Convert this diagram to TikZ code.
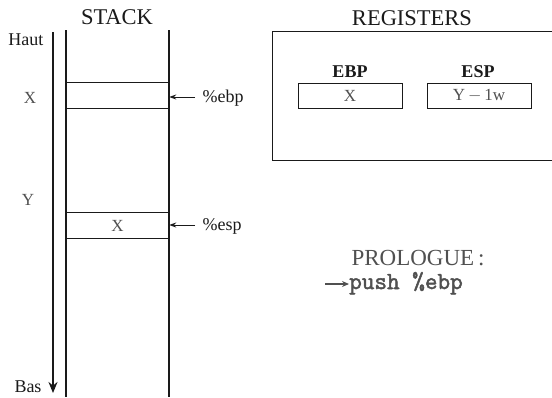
\documentclass[tikz,border=0pt]{standalone}
\usepackage{fontspec}
\setmainfont{Liberation Serif}
\newfontfamily\codefont[FakeBold=2]{Latin Modern Mono}
\usetikzlibrary{arrows.meta}
\definecolor{ink}{HTML}{1A1A1A}
\definecolor{soft}{HTML}{505050}
\begin{document}
\begin{tikzpicture}[x=1pt,y=-1pt,
  wall/.style={draw=ink,line width=1.1pt},
  title/.style={font=\fontsize{22.5}{24}\selectfont,text=ink},
  side/.style={font=\fontsize{18}{20}\selectfont,text=ink},
  val/.style={font=\fontsize{17}{19}\selectfont,text=soft},
  regname/.style={font=\fontsize{18}{20}\selectfont\bfseries,text=ink},
  regbox/.style={draw=ink,line width=0.9pt,minimum width=104pt,minimum height=25pt,inner sep=0pt,font=\fontsize{17}{19}\selectfont,text=soft},
  ptr/.style={draw=ink,line width=1pt,-{Stealth[length=7pt,width=5pt]}}]
\useasboundingbox (0,0) rectangle (552,397);

% direction of growth, Haut -> Bas
\node[side,anchor=east] (haut) at (47,40) {Haut};
\node[side] (bas) at (28,387) {Bas};
\coordinate (dtop) at (53,32);
\coordinate (dbot) at (53,393);
\draw[draw=ink,line width=2.6pt,-{Stealth[length=11pt,width=9pt]}] (dtop) -- (dbot);

% the stack
\node[title] (stack) at (117,17) {STACK};
\coordinate (wl1) at (66,30);  \coordinate (wl2) at (66,397);
\coordinate (wr1) at (169,30); \coordinate (wr2) at (169,397);
\draw[wall] (wl1) -- (wl2);
\draw[wall] (wr1) -- (wr2);
\node[minimum width=103pt,minimum height=25pt,inner sep=0pt] (slotx) at (117.5,95.5) {};
\draw[wall] (slotx.north west) -- (slotx.north east) (slotx.south west) -- (slotx.south east);
\node[minimum width=103pt,minimum height=25pt,inner sep=0pt,val] (slote) at (117.5,225.5) {X};
\draw[wall] (slote.north west) -- (slote.north east) (slote.south west) -- (slote.south east);

\node[val] (lx) at (30,98) {X};
\node[val] (ly) at (28,200) {Y};

% stack pointers
\node[side,anchor=west] (ebp) at (199,98) {\%ebp};
\node[side,anchor=west] (esp) at (199,226) {\%esp};
\draw[ptr] (ebp.west) ++(-4,-1) coordinate (e1) (e1) -- (e1-|slotx.east);
\draw[ptr] (esp.west) ++(-4,-1) coordinate (e2) (e2) -- (e2-|slote.east);

% registers
\node[title] (regs) at (412,18) {REGISTERS};
\draw[draw=ink,line width=1pt] (272,31) -- (554,31) (272,31) -- (272,160) -- (554,160);
\node[regname] (ebpn) at (350,72) {EBP};
\node[regname] (espn) at (478,72) {ESP};
\node[regbox] (ebpv) at (350,95.5) {X};
\node[regbox] (espv) at (479,95.5) {Y$\,-\,$1w};

% prologue
\node[font=\fontsize{23}{25}\selectfont,text=soft] (pro) at (418,258) {PROLOGUE\,:};
\node[font=\fontsize{24.5}{26}\selectfont\codefont,text=soft,anchor=base west,inner sep=0pt] (push) at (349,289) {push \%ebp};
\coordinate (pa) at (325,284);
\draw[draw=soft,line width=1.1pt,-{Stealth[length=7pt,width=6pt]}] (pa) -- (pa-|push.west);
\end{tikzpicture}
\end{document}
